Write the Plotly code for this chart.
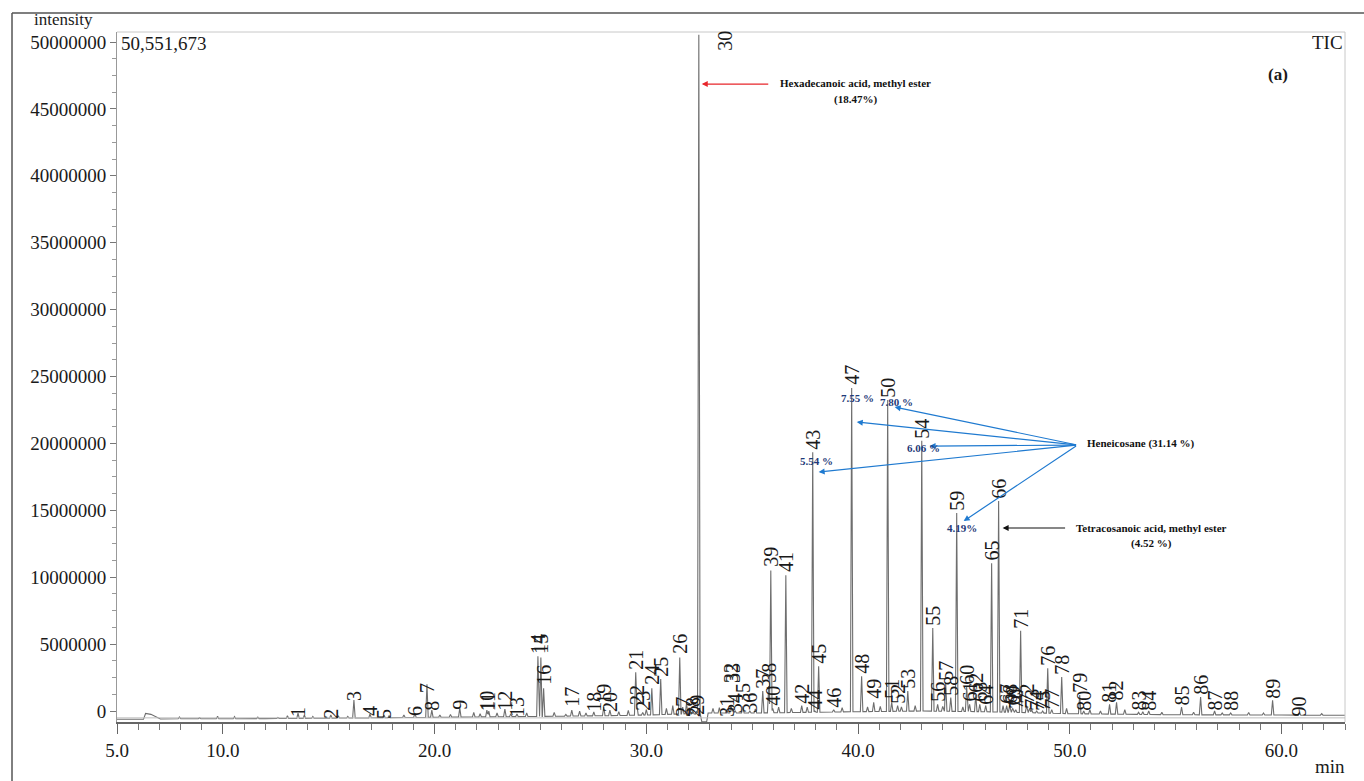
import numpy as np
import plotly.graph_objects as go

# ---------------- data ----------------
peak_no = list(range(1, 91))
peak_rt = [13.55, 15.10, 16.19, 16.95, 17.61, 19.07, 19.64, 19.87, 21.19, 22.47,
           22.56, 23.32, 23.89, 24.88, 25.02, 25.15, 26.48, 27.52, 27.99, 28.28,
           29.50, 29.56, 29.83, 30.26, 30.68, 31.58, 31.72, 32.20, 32.38, 32.48,
           33.80, 34.00, 34.10, 34.20, 34.56, 34.89, 35.50, 35.78, 35.88, 35.97,
           36.59, 37.34, 37.86, 37.96, 38.14, 38.85, 39.70, 40.17, 40.74, 41.40,
           41.59, 41.87, 42.35, 43.01, 43.53, 43.76, 44.14, 44.38, 44.66, 45.13,
           45.27, 45.56, 45.75, 46.03, 46.31, 46.64, 47.02, 47.16, 47.30, 47.45,
           47.68, 47.96, 48.20, 48.44, 48.72, 48.96, 49.15, 49.62, 50.47, 50.66,
           51.88, 52.21, 53.25, 53.73, 55.28, 56.18, 56.84, 57.60, 59.58, 60.85]
peak_height = [-0.15e6, -0.30e6, 0.82e6, -0.22e6, -0.30e6, -0.15e6, 2.00e6, 0.07e6, 0.22e6, 0.07e6,
               0.00e6, 0.15e6, -0.22e6, 4.10e6, 4.00e6, 1.70e6, 0.07e6, -0.07e6, 0.30e6, 0.07e6,
               2.90e6, 0.37e6, -0.10e6, 1.70e6, 2.40e6, 4.00e6, 0.30e6, 0.00e6, 0.00e6, 50.551673e6,
               0.10e6, 0.40e6, 0.20e6, 0.00e6, 0.35e6, 0.00e6, 1.50e6, 1.85e6, 10.50e6, 0.20e6,
               10.15e6, 0.40e6, 19.35e6, 0.00e6, 3.35e6, 0.10e6, 24.15e6, 2.60e6, 0.65e6, 23.25e6,
               0.65e6, 0.40e6, 1.50e6, 20.20e6, 6.20e6, 0.50e6, 2.10e6, 1.00e6, 14.80e6, 1.80e6,
               0.50e6, 1.20e6, 0.50e6, 0.40e6, 11.05e6, 15.70e6, 0.40e6, 0.40e6, 0.20e6, 0.10e6,
               6.00e6, 0.40e6, 0.10e6, 0.00e6, 0.00e6, 3.20e6, 0.10e6, 2.55e6, 1.20e6, 0.00e6,
               0.50e6, 0.65e6, -0.10e6, 0.00e6, 0.30e6, 1.05e6, 0.00e6, -0.15e6, 0.80e6, -0.10e6]

# label anchor (bottom of rotated number) for each peak
label_rt = list(peak_rt)
label_rt[29] = 33.70
label_y = [-0.52e6, -0.67e6, 0.67e6, -0.45e6, -0.67e6, -0.45e6, 1.27e6, -0.07e6, 0.00e6, -0.07e6,
           -0.07e6, -0.07e6, -0.52e6, 4.19e6, 4.19e6, 1.87e6, 0.22e6, -0.15e6, 0.45e6, -0.15e6,
           2.99e6, 0.37e6, -0.07e6, 1.87e6, 2.47e6, 4.19e6, -0.52e6, -0.52e6, -0.37e6, 49.25e6,
           -0.52e6, 2.02e6, 2.02e6, -0.22e6, 0.52e6, -0.22e6, 1.57e6, 2.02e6, 10.69e6, 0.30e6,
           10.31e6, 0.45e6, 19.43e6, 0.00e6, 3.44e6, 0.15e6, 24.29e6, 2.69e6, 0.82e6, 23.32e6,
           0.82e6, 0.45e6, 1.57e6, 20.25e6, 6.28e6, 0.60e6, 2.17e6, 1.05e6, 14.87e6, 1.87e6,
           0.60e6, 1.27e6, 0.60e6, 0.37e6, 11.14e6, 15.77e6, 0.45e6, 0.45e6, 0.30e6, 0.07e6,
           6.05e6, 0.45e6, 0.07e6, -0.07e6, -0.07e6, 3.29e6, 0.07e6, 2.62e6, 1.27e6, -0.07e6,
           0.52e6, 0.67e6, -0.07e6, -0.07e6, 0.30e6, 1.12e6, -0.07e6, -0.07e6, 0.82e6, -0.45e6]

# small unlabeled bumps of the baseline
noise_rt = [7.95, 8.9, 9.75, 10.55, 11.65, 12.6, 13.05, 13.85, 14.25, 15.45,
            15.9, 17.85, 18.55, 20.25, 20.75, 21.85, 22.15, 22.95, 23.6, 24.35,
            25.65, 26.2, 26.85, 27.15, 28.7, 29.15, 30.0, 30.95, 31.25, 31.9,
            33.15, 33.45, 35.15, 36.25, 36.85, 37.6, 39.25, 40.45, 41.05, 42.05,
            42.7, 44.0, 44.95, 46.85, 48.1, 49.85, 50.95, 51.45, 52.6, 53.45,
            54.35, 55.85, 57.2, 58.45, 59.15, 61.9]
noise_height = [-0.45e6, -0.50e6, -0.40e6, -0.42e6, -0.45e6, -0.48e6, -0.35e6, -0.30e6, -0.40e6, -0.35e6,
                -0.40e6, -0.35e6, -0.30e6, -0.30e6, -0.25e6, -0.10e6, -0.20e6, -0.15e6, -0.20e6, -0.15e6,
                -0.10e6, -0.25e6, 0.00e6, -0.15e6, -0.05e6, 0.05e6, 0.10e6, 0.20e6, 0.40e6, 0.60e6,
                0.20e6, 0.25e6, 0.15e6, 0.30e6, 0.20e6, 0.30e6, 0.25e6, 0.30e6, 0.35e6, 0.30e6,
                0.40e6, 0.35e6, 0.30e6, 0.40e6, 0.20e6, 0.20e6, 0.10e6, 0.00e6, 0.10e6, -0.05e6,
                -0.10e6, -0.10e6, -0.15e6, -0.10e6, -0.15e6, -0.20e6]

# baseline drift (incl. solvent hump and dip after peak 30)
base_rt = [5.0, 6.25, 6.35, 6.6, 7.05, 8.0, 12.0, 16.0, 20.0, 25.0, 28.0, 30.0, 32.0,
           32.55, 32.62, 32.85, 32.92, 35.0, 40.0, 43.0, 46.0, 50.0, 55.0, 60.0, 63.0]
base_val = [-0.62e6, -0.62e6, -0.18e6, -0.25e6, -0.60e6, -0.58e6, -0.57e6, -0.52e6, -0.47e6,
            -0.40e6, -0.35e6, -0.30e6, -0.20e6, -0.25e6, -0.80e6, -0.80e6, -0.15e6, -0.15e6,
            -0.05e6, 0.00e6, -0.05e6, -0.20e6, -0.28e6, -0.30e6, -0.32e6]

y_tick_vals = [0, 5e6, 10e6, 15e6, 20e6, 25e6, 30e6, 35e6, 40e6, 45e6, 50e6]
y_tick_text = ["0", "5000000", "10000000", "15000000", "20000000", "25000000",
               "30000000", "35000000", "40000000", "45000000", "50000000"]
x_tick_vals = [5, 10, 20, 30, 40, 50, 60]
x_tick_text = ["5.0", "10.0", "20.0", "30.0", "40.0", "50.0", "60.0"]

# ---------------- build the chromatogram trace ----------------
HW = 0.06  # peak half width (min) - drawing style
all_rt = peak_rt + noise_rt
all_h = peak_height + noise_height
xs = set(base_rt)
for rt in all_rt:
    xs.update([rt - HW, rt, rt + HW])
xs = np.array(sorted(x for x in xs if 5.0 <= x <= 63.0))
base_x = np.interp(xs, base_rt, base_val)
ys = base_x.copy()
for rt, h in zip(all_rt, all_h):
    b0 = np.interp(rt, base_rt, base_val)
    w = 1.0 - np.abs(xs - rt) / HW
    m = w > 0
    tri = base_x[m] + (h - b0) * w[m]
    ys[m] = np.maximum(ys[m], tri)

fig = go.Figure()
fig.add_trace(go.Scatter(x=xs, y=ys, mode="lines",
                         line=dict(color="#6e6e6e", width=1.1),
                         hoverinfo="skip", showlegend=False))

SERIF = "Liberation Serif"
ann = []
for n, lx, ly in zip(peak_no, label_rt, label_y):
    ann.append(dict(x=lx, y=ly, xref="x", yref="y", text=str(n), showarrow=False,
                    textangle=-90, xanchor="center", yanchor="bottom", borderpad=0,
                    font=dict(family=SERIF, size=20, color="#1a1a1a")))

# compound annotations
BOLD = dict(family=SERIF, size=11, color="#111111")
NAVY = dict(family=SERIF, size=11, color="#1f3a78")
def txt(x, y, s, font, xanchor="center"):
    ann.append(dict(x=x, y=y, xref="x", yref="y", text=s, showarrow=False,
                    xanchor=xanchor, yanchor="middle", font=font, borderpad=0))
def arrow(x, y, ax, ay, color):
    ann.append(dict(x=x, y=y, ax=ax, ay=ay, xref="x", yref="y", axref="x", ayref="y",
                    text="", showarrow=True, arrowhead=2, arrowsize=1.0,
                    arrowwidth=1.2, arrowcolor=color, standoff=0))

txt(39.89, 46.94e6, "<b>Hexadecanoic acid, methyl ester</b>", BOLD)
txt(39.89, 45.67e6, "<b>(18.47%)</b>", BOLD)
arrow(32.62, 46.86e6, 35.83, 46.86e6, "#e8262b")

txt(50.75, 19.96e6, "<b>Heneicosane (31.14 %)</b>", BOLD, xanchor="left")
for tx, ty in [(41.73, 22.72e6), (39.94, 21.60e6), (43.38, 19.80e6),
               (38.14, 17.86e6), (44.99, 14.20e6)]:
    arrow(tx, ty, 50.37, 19.88e6, "#1f7ad0")
txt(39.99, 23.39e6, "<b>7.55 %</b>", NAVY)
txt(41.83, 23.09e6, "<b>7.80 %</b>", NAVY)
txt(43.10, 19.66e6, "<b>6.06 %</b>", NAVY)
txt(38.05, 18.68e6, "<b>5.54 %</b>", NAVY)
txt(44.90, 13.68e6, "<b>4.19%</b>", NAVY)

txt(53.87, 13.68e6, "<b>Tetracosanoic acid, methyl ester</b>", BOLD)
txt(53.87, 12.52e6, "<b>(4.52 %)</b>", BOLD)
arrow(46.83, 13.68e6, 49.85, 13.68e6, "#111111")

# paper texts
def ptxt(x, y, s, size, xanchor="left", bold=False):
    ann.append(dict(x=x, y=y, xref="paper", yref="paper", text=("<b>%s</b>" % s) if bold else s,
                    showarrow=False, xanchor=xanchor, yanchor="middle", borderpad=0,
                    font=dict(family=SERIF, size=size, color="#1a1a1a")))
ptxt(-0.0684, 1.0174, "intensity", 17)
ptxt(0.0024, 0.984, "50,551,673", 19)
ptxt(0.9995, 0.9855, "TIC", 19, xanchor="right")
ptxt(0.9454, 0.9377, "(a)", 17, xanchor="center", bold=True)
ptxt(0.9878, -0.0652, "min", 19, xanchor="center")

shapes = [
    # outer frame (top and left)
    dict(type="line", xref="paper", yref="paper", x0=-0.0855, x1=1.02, y0=1.0275, y1=1.0275,
         line=dict(color="#555555", width=1.5)),
    dict(type="line", xref="paper", yref="paper", x0=-0.0855, x1=-0.0855, y0=-0.09, y1=1.0275,
         line=dict(color="#555555", width=1.5)),
    # inner frame top / right
    dict(type="line", xref="paper", yref="paper", x0=0, x1=1, y0=1, y1=1,
         line=dict(color="#c8c8c8", width=1)),
    dict(type="line", xref="paper", yref="paper", x0=1, x1=1, y0=0, y1=1,
         line=dict(color="#c8c8c8", width=1)),
    dict(type="line", xref="paper", yref="paper", x0=0, x1=1, y0=0.006, y1=0.006,
         line=dict(color="#bdbdbd", width=1)),
]

fig.update_layout(
    width=1364, height=781,
    margin=dict(l=117, r=19, t=32, b=59),
    paper_bgcolor="white", plot_bgcolor="white",
    showlegend=False,
    annotations=ann, shapes=shapes,
    font=dict(family=SERIF, size=19, color="#1a1a1a"),
    xaxis=dict(range=[5.0, 63.0], tickmode="array", tickvals=x_tick_vals, ticktext=x_tick_text,
               ticks="outside", ticklen=10, tickwidth=1, tickcolor="#666666",
               showline=True, linecolor="#666666", linewidth=1.5, showgrid=False, zeroline=False,
               tickfont=dict(family=SERIF, size=19, color="#1a1a1a"),
               minor=dict(tickmode="linear", tick0=5, dtick=1, ticks="outside", ticklen=6,
                          tickcolor="#777777", showgrid=False)),
    yaxis=dict(range=[-0.82e6, 50.75e6], tickmode="array", tickvals=y_tick_vals, ticktext=y_tick_text,
               ticks="outside", ticklen=6, tickwidth=1, tickcolor="#777777",
               showline=True, linecolor="#999999", linewidth=1, showgrid=False, zeroline=False,
               tickfont=dict(family=SERIF, size=19, color="#1a1a1a"),
               minor=dict(tickmode="linear", tick0=0, dtick=1.25e6, ticks="outside", ticklen=4,
                          tickcolor="#999999", showgrid=False)),
)

fig.write_html("out.html", config={"displayModeBar": False},
               post_script="document.body.style.margin='0';document.body.style.overflow='hidden';")
